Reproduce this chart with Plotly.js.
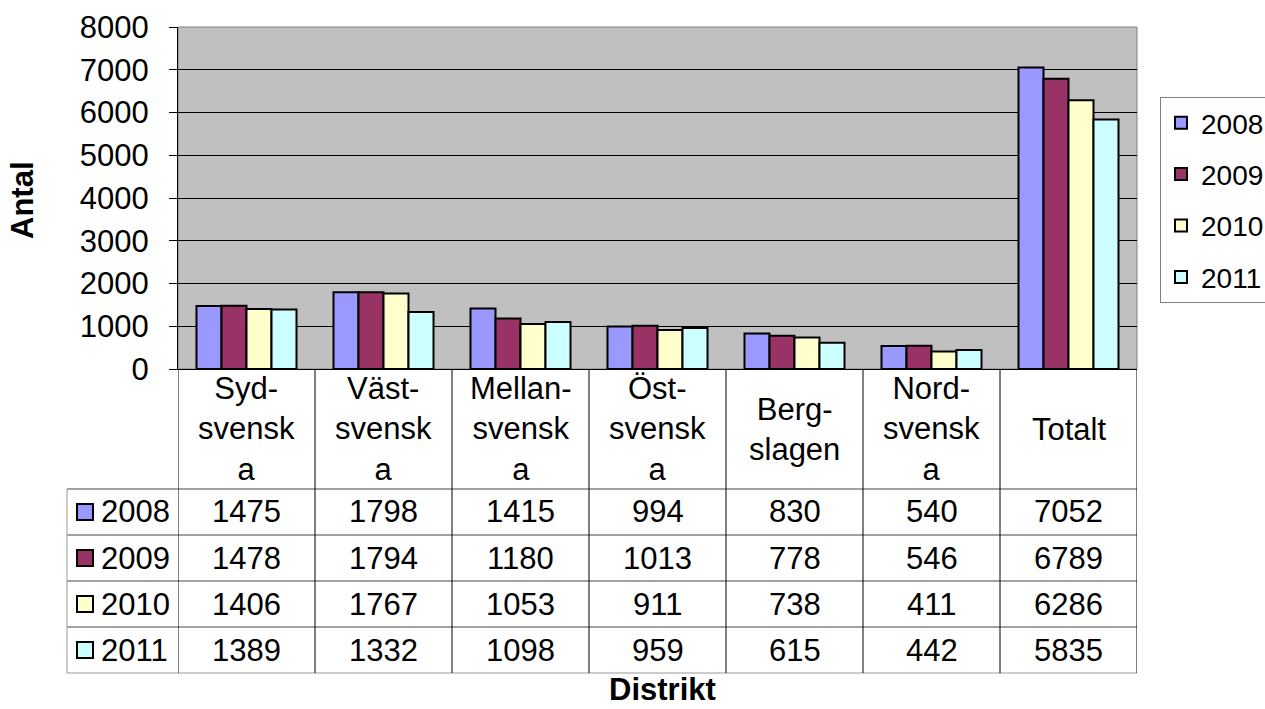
<!DOCTYPE html>
<html>
<head>
<meta charset="utf-8">
<script src="https://cdn.plot.ly/plotly-3.0.1.min.js"></script>
<style>html,body{margin:0;padding:0;background:#fff;}#chart{width:1265px;height:709px;}</style>
</head>
<body>
<div id="chart"></div>
<script>
// ---- data ----
const categories = ["Syd-svenska", "Väst-svenska", "Mellan-svenska", "Öst-svenska", "Berg-slagen", "Nord-svenska", "Totalt"];
const categoryLabels = ["Syd-<br>svensk<br>a", "Väst-<br>svensk<br>a", "Mellan-<br>svensk<br>a", "Öst-<br>svensk<br>a", "Berg-<br>slagen", "Nord-<br>svensk<br>a", "Totalt"];
const years = ["2008", "2009", "2010", "2011"];
const v2008 = [1475, 1798, 1415, 994, 830, 540, 7052];
const v2009 = [1478, 1794, 1180, 1013, 778, 546, 6789];
const v2010 = [1406, 1767, 1053, 911, 738, 411, 6286];
const v2011 = [1389, 1332, 1098, 959, 615, 442, 5835];
const series = [v2008, v2009, v2010, v2011];
const colors = ["#9999ff", "#993366", "#ffffcc", "#ccffff"];
const yTicks = [0, 1000, 2000, 3000, 4000, 5000, 6000, 7000, 8000];

// ---- layout geometry (pixels) ----
const W = 1265, H = 709;
const PL = 178, PR = 1137, PT = 27, PB = 369;
const TABLE_LEFT = 67;
const HEADER_BOTTOM = 489;
const ROW_H = 46;
const FONT = '"Liberation Sans", Arial, sans-serif';
const FS = 31;
const LEG_FS = 28;

const px2x = p => (p - PL) / (PR - PL);
const py2y = p => (PB - p) / (PB - PT);

const traces = years.map((yr, i) => ({
  type: 'bar', name: yr, x: categories, y: series[i],
  marker: { color: colors[i], line: { color: '#000', width: 2 } },
  legendgroup: yr, hoverinfo: 'skip'
}));

const shapes = [];
const annotations = [];

// plot area border (top/right gray)
shapes.push({ type: 'rect', xref: 'paper', yref: 'paper', x0: 0, x1: 1, y0: 0, y1: 1,
  line: { color: '#808080', width: 1 }, layer: 'below' });

// table horizontal lines
for (let r = 0; r <= years.length; r++) {
  const yp = HEADER_BOTTOM + r * ROW_H;
  shapes.push({ type: 'line', xref: 'paper', yref: 'paper', x0: px2x(TABLE_LEFT), x1: 1,
    y0: py2y(yp), y1: py2y(yp), line: { color: r === years.length ? '#999' : '#444', width: 1 } });
}
// table vertical lines
for (let c = 0; c <= categories.length; c++) {
  shapes.push({ type: 'line', xref: 'x', yref: 'paper', x0: c - 0.5, x1: c - 0.5,
    y0: py2y(PB), y1: py2y(HEADER_BOTTOM + years.length * ROW_H), line: { color: '#000', width: 1 } });
}
shapes.push({ type: 'line', xref: 'paper', yref: 'paper', x0: px2x(TABLE_LEFT), x1: px2x(TABLE_LEFT),
  y0: py2y(HEADER_BOTTOM), y1: py2y(HEADER_BOTTOM + years.length * ROW_H), line: { color: '#999', width: 1 } });

// header labels
categories.forEach((c, j) => {
  annotations.push({ xref: 'x', yref: 'paper', x: j, y: py2y((PB + HEADER_BOTTOM) / 2),
    text: categoryLabels[j], showarrow: false, font: { family: FONT, size: FS, color: '#000' },
    xanchor: 'center', yanchor: 'middle', align: 'center' });
});

// row labels + values
years.forEach((yr, r) => {
  const cy = HEADER_BOTTOM + r * ROW_H + ROW_H / 2;
  shapes.push({ type: 'rect', xref: 'paper', yref: 'paper',
    x0: px2x(77), x1: px2x(93), y0: py2y(cy - 8), y1: py2y(cy + 8),
    fillcolor: colors[r], line: { color: '#000', width: 2 } });
  annotations.push({ xref: 'paper', yref: 'paper', x: px2x(99), y: py2y(cy), text: yr,
    showarrow: false, xanchor: 'left', yanchor: 'middle', font: { family: FONT, size: FS, color: '#000' } });
  categories.forEach((c, j) => {
    annotations.push({ xref: 'x', yref: 'paper', x: j, y: py2y(cy), text: String(series[r][j]),
      showarrow: false, xanchor: 'center', yanchor: 'middle', font: { family: FONT, size: FS, color: '#000' } });
  });
});

// axis titles
annotations.push({ xref: 'paper', yref: 'paper', x: px2x(23), y: py2y(200), text: '<b>Antal</b>',
  textangle: -90, showarrow: false, xanchor: 'center', yanchor: 'middle', font: { family: FONT, size: FS, color: '#000' } });
annotations.push({ xref: 'paper', yref: 'paper', x: px2x(662), y: py2y(689), text: '<b>Distrikt</b>',
  showarrow: false, xanchor: 'center', yanchor: 'middle', font: { family: FONT, size: FS, color: '#000' } });

const layout = {
  width: W, height: H,
  margin: { l: PL, r: W - PR, t: PT, b: H - PB, pad: 0, autoexpand: false },
  paper_bgcolor: '#fff', plot_bgcolor: '#c0c0c0',
  font: { family: FONT, size: FS, color: '#000' },
  barmode: 'group', bargap: 0.27, bargroupgap: 0,
  showlegend: true,
  legend: { x: px2x(1160), y: py2y(97), xanchor: 'left', yanchor: 'top',
    bgcolor: '#fff', bordercolor: '#808080', borderwidth: 1, itemwidth: 30,
    font: { family: FONT, size: LEG_FS, color: '#000' }, tracegroupgap: 12, traceorder: 'grouped' },
  xaxis: { type: 'category', range: [-0.5, categories.length - 0.5], showticklabels: false, ticks: '',
    showgrid: false, showline: true, linecolor: '#000', linewidth: 1, zeroline: false, fixedrange: true },
  yaxis: { range: [0, 8000], tickvals: yTicks, ticktext: yTicks.map(String), ticks: 'outside', ticklen: 8,
    tickcolor: '#000', showline: true, linecolor: '#000', linewidth: 1, showgrid: true, gridcolor: '#000',
    gridwidth: 1, zeroline: false, tickfont: { family: FONT, size: FS, color: '#000' },
    ticklabelstandoff: 14, fixedrange: true },
  shapes: shapes, annotations: annotations
};

Plotly.newPlot('chart', traces, layout, { displayModeBar: false, staticPlot: true });
</script>
</body>
</html>
